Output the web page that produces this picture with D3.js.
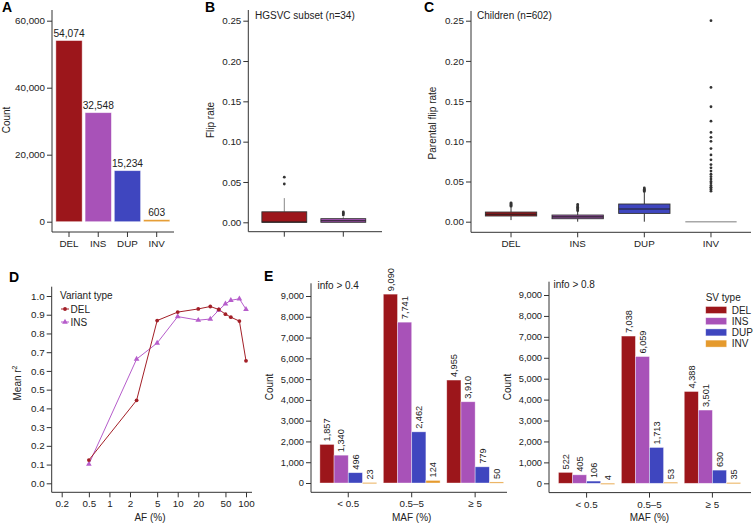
<!doctype html>
<html lang="en">
  <head>
    <meta charset="utf-8"/>
    <title>SV panels</title>
    <script src="https://d3js.org/d3.v7.min.js"></script>
    <style>
      body { margin: 0; background: #fff; }
      text { font-family: "Liberation Sans", Arial, Helvetica, sans-serif; fill: #222; }
    </style>
  </head>
  <body>
    <div id="chart"></div>
    <script>
      // ---- data ----
      var svTypes = ["DEL", "INS", "DUP", "INV"];
      var svColors = ["#9c161b", "#a852b8", "#3f46bf", "#e59a2d"];
      var totalCounts = [54074, 32548, 15234, 603];
      var countTicks = [0, 20000, 40000, 60000];

      // box stats (HGSVC subset)
      var boxB = [
        {type: "DEL", lo: 0, q1: 0, med: 0.0004, q3: 0.013, hi: 0.030, out: [0.0475, 0.056]},
        {type: "INS", lo: 0, q1: 0, med: 0.002, q3: 0.0045, hi: 0.0065, out: [0.009, 0.0105, 0.0115, 0.0128]}
      ];
      // box stats (children)
      var boxC = [
        {type: "DEL", lo: 0.002, q1: 0.0071, med: 0.0092, q3: 0.012, hi: 0.0175, out: [0.019, 0.0205, 0.0215, 0.0225, 0.0235]},
        {type: "INS", lo: 0, q1: 0.0037, med: 0.006, q3: 0.0083, hi: 0.0122, out: [0.0135, 0.015, 0.0165, 0.018, 0.0195, 0.0215]},
        {type: "DUP", lo: 0, q1: 0.0103, med: 0.0158, q3: 0.022, hi: 0.036, out: [0.0375, 0.039, 0.0405, 0.042]},
        {type: "INV", lo: 0, q1: 0, med: 0, q3: 0, hi: 0,
         out: [0.25, 0.167, 0.143, 0.125, 0.111, 0.105, 0.1, 0.091, 0.083, 0.077, 0.071, 0.067, 0.063,
               0.059, 0.056, 0.053, 0.05, 0.048, 0.045, 0.043, 0.042, 0.04, 0.038]}
      ];
      var flipTicks = [0, 0.05, 0.10, 0.15, 0.20, 0.25];

      var afPoints = [0.5, 2.5, 5, 10, 20, 30, 40, 50, 60, 80, 100];
      var delR2 = [0.124, 0.443, 0.869, 0.914, 0.931, 0.944, 0.928, 0.903, 0.887, 0.866, 0.654];
      var insR2 = [0.102, 0.663, 0.749, 0.890, 0.871, 0.877, 0.925, 0.958, 0.977, 0.985, 0.929];
      var afTicks = [0.2, 0.5, 1, 2, 5, 10, 20, 50, 100];
      var r2Ticks = [0, 0.1, 0.2, 0.3, 0.4, 0.5, 0.6, 0.7, 0.8, 0.9, 1.0];

      var mafBins = ["< 0.5", "0.5\u20135", "\u2265 5"];
      // rows = MAF bins, columns = DEL, INS, DUP, INV
      var info04 = [[1857, 1340, 496, 23], [9090, 7741, 2462, 124], [4955, 3910, 779, 50]];
      var info08 = [[522, 405, 106, 4], [7038, 6059, 1713, 53], [4388, 3501, 630, 35]];
      var mafTicks = d3.range(0, 9001, 1000);

      var fmtComma = d3.format(",");
      var fs = 9.8;

      var svg = d3.select("#chart").append("svg")
        .attr("width", 754).attr("height", 524);

      var color = d3.scaleOrdinal().domain(svTypes).range(svColors);

      // helpers
      function leftAxis(x, scale, ticks, fmt, top, bottom, size) {
        var g = svg.append("g")
          .attr("transform", "translate(" + x + ",0)")
          .call(d3.axisLeft(scale).tickValues(ticks).tickFormat(fmt).tickSize(5).tickPadding(2));
        g.select(".domain").remove();
        g.selectAll("text").attr("font-size", size || fs).attr("font-family", null);
        g.selectAll("line").attr("stroke", "#333");
        svg.append("line").attr("x1", x).attr("x2", x).attr("y1", top).attr("y2", bottom)
          .attr("stroke", "#333");
      }
      function bottomAxis(y, scale, ticks, fmt, left, right) {
        var ax = d3.axisBottom(scale).tickSize(5).tickPadding(3);
        if (ticks) ax.tickValues(ticks);
        if (fmt) ax.tickFormat(fmt);
        var g = svg.append("g").attr("transform", "translate(0," + y + ")").call(ax);
        g.select(".domain").remove();
        g.selectAll("text").attr("font-size", fs).attr("font-family", null);
        g.selectAll("line").attr("stroke", "#333");
        svg.append("line").attr("x1", left).attr("x2", right).attr("y1", y).attr("y2", y)
          .attr("stroke", "#333");
      }
      function yTitle(x, y, txt) {
        return svg.append("text").attr("transform", "translate(" + x + "," + y + ") rotate(-90)")
          .attr("text-anchor", "middle").attr("font-size", 10).text(txt);
      }
      function panelLetter(x, y, txt) {
        svg.append("text").attr("x", x).attr("y", y).attr("font-size", 14)
          .attr("font-weight", "bold").style("fill", "#000").text(txt);
      }

      // ---- Panel A ----
      var yA = d3.scaleLinear().domain([0, 60000]).range([221.7, 20.7]);
      var xA = d3.scaleBand().domain(svTypes).range([54.4, 171.3]).paddingInner(0.1).paddingOuter(0.05);
      svg.append("g").selectAll("rect").data(totalCounts).enter().append("rect")
        .attr("x", function(d, i) { return xA(svTypes[i]); })
        .attr("y", function(d) { return yA(d); })
        .attr("width", xA.bandwidth())
        .attr("height", function(d) { return Math.max(yA(0) - yA(d), 1.5); })
        .attr("fill", function(d, i) { return svColors[i]; })
        .attr("stroke", "#fff").attr("stroke-opacity", 0.55).attr("stroke-width", 0.8);
      svg.append("g").selectAll("text").data(totalCounts).enter().append("text")
        .attr("x", function(d, i) { return xA(svTypes[i]) + xA.bandwidth() / 2; })
        .attr("y", function(d) { return yA(d) - 4; })
        .attr("text-anchor", "middle").attr("font-size", 10.2)
        .text(function(d) { return fmtComma(d); });
      leftAxis(52, yA, countTicks, fmtComma, 10, 232);
      bottomAxis(232, xA, null, null, 52, 174);
      yTitle(10, 120, "Count");
      panelLetter(2, 12, "A");

      // ---- box plot helper ----
      function boxes(stats, xs, ys, widthFrac, whiskerColor) {
        var bw = xs.bandwidth() * widthFrac;
        var g = svg.append("g");
        stats.forEach(function(s) {
          var cx = xs(s.type) + xs.bandwidth() / 2;
          if (s.type === "INV") {
            g.append("line").attr("x1", cx - bw / 2).attr("x2", cx + bw / 2)
              .attr("y1", ys(0)).attr("y2", ys(0)).attr("stroke", "#a8a8a8").attr("stroke-width", 1.6);
          } else {
            g.append("line").attr("x1", cx).attr("x2", cx).attr("y1", ys(s.q3)).attr("y2", ys(s.hi))
              .attr("stroke", whiskerColor);
            g.append("line").attr("x1", cx).attr("x2", cx).attr("y1", ys(s.q1)).attr("y2", ys(s.lo))
              .attr("stroke", whiskerColor);
            g.append("rect").attr("x", cx - bw / 2).attr("width", bw)
              .attr("y", ys(s.q3)).attr("height", Math.max(ys(s.q1) - ys(s.q3), 1))
              .attr("fill", color(s.type)).attr("stroke", "#333").attr("stroke-width", 0.9);
            g.append("line").attr("x1", cx - bw / 2).attr("x2", cx + bw / 2)
              .attr("y1", ys(s.med)).attr("y2", ys(s.med)).attr("stroke", "#222").attr("stroke-width", 1.1);
          }
          g.selectAll(null).data(s.out).enter().append("circle")
            .attr("cx", cx).attr("cy", function(d) { return ys(d); })
            .attr("r", 1.4).attr("fill", "#333");
        });
      }

      // ---- Panel B ----
      var yB = d3.scaleLinear().domain([0, 0.25]).range([222.3, 20.7]);
      var xB = d3.scaleBand().domain(["DEL", "INS"]).range([254.8, 372.8]);
      boxes(boxB, xB, yB, 0.76, "#888");
      leftAxis(248.3, yB, flipTicks, d3.format(".2f"), 10, 231.7);
      bottomAxis(231.7, xB, null, function() { return ""; }, 248.3, 382);
      svg.append("text").attr("x", 255).attr("y", 18.5).attr("font-size", 10).text("HGSVC subset (n=34)");
      yTitle(213.5, 120, "Flip rate");
      panelLetter(205, 12, "B");

      // ---- Panel C ----
      var yC = d3.scaleLinear().domain([0, 0.25]).range([221.7, 20.7]);
      var xC = d3.scaleBand().domain(svTypes).range([477.7, 744.3]);
      boxes(boxC, xC, yC, 0.77, "#333");
      leftAxis(471, yC, flipTicks, d3.format(".2f"), 11, 232.3);
      bottomAxis(232.3, xC, null, null, 471, 751);
      svg.append("text").attr("x", 477).attr("y", 18.5).attr("font-size", 10).text("Children (n=602)");
      yTitle(435.5, 123, "Parental flip rate");
      panelLetter(424, 12, "C");

      // ---- Panel D ----
      var yD = d3.scaleLinear().domain([0, 1]).range([483.3, 296]);
      var xD = d3.scaleLog().domain([0.2, 100]).range([61.7, 246]);
      var lineD = d3.line().x(function(d) { return xD(d[0]); }).y(function(d) { return yD(d[1]); });
      var delPts = afPoints.map(function(a, i) { return [a, delR2[i]]; });
      var insPts = afPoints.map(function(a, i) { return [a, insR2[i]]; });
      var delCol = "#a31f27", insCol = "#b65dcb";
      svg.append("path").attr("d", lineD(insPts)).attr("fill", "none").attr("stroke", insCol).attr("stroke-width", 1);
      svg.append("path").attr("d", lineD(delPts)).attr("fill", "none").attr("stroke", delCol).attr("stroke-width", 1);
      svg.append("g").selectAll("path").data(insPts).enter().append("path")
        .attr("d", d3.symbol().type(d3.symbolTriangle).size(14))
        .attr("transform", function(d) { return "translate(" + xD(d[0]) + "," + yD(d[1]) + ")"; })
        .attr("fill", insCol);
      svg.append("g").selectAll("circle").data(delPts).enter().append("circle")
        .attr("cx", function(d) { return xD(d[0]); }).attr("cy", function(d) { return yD(d[1]); })
        .attr("r", 1.9).attr("fill", delCol);
      leftAxis(51.7, yD, r2Ticks, d3.format(".1f"), 286.7, 492.3);
      bottomAxis(492.3, xD, afTicks, d3.format("~g"), 51.7, 252);
      var tD = svg.append("text").attr("transform", "translate(21,383) rotate(-90)")
        .attr("text-anchor", "middle").attr("font-size", 10);
      tD.append("tspan").text("Mean r");
      tD.append("tspan").attr("font-size", 7).attr("dy", -4.5).text("2");
      svg.append("text").attr("x", 150).attr("y", 520.5).attr("text-anchor", "middle")
        .attr("font-size", 10).text("AF (%)");
      // legend D
      svg.append("text").attr("x", 60).attr("y", 298.8).attr("font-size", 10).text("Variant type");
      svg.append("line").attr("x1", 61).attr("x2", 69).attr("y1", 309).attr("y2", 309).attr("stroke", delCol);
      svg.append("circle").attr("cx", 65).attr("cy", 309).attr("r", 1.9).attr("fill", delCol);
      svg.append("text").attr("x", 70.5).attr("y", 312.6).attr("font-size", 10).text("DEL");
      svg.append("line").attr("x1", 61).attr("x2", 69).attr("y1", 322).attr("y2", 322).attr("stroke", insCol);
      svg.append("path").attr("d", d3.symbol().type(d3.symbolTriangle).size(14)())
        .attr("transform", "translate(65,322)").attr("fill", insCol);
      svg.append("text").attr("x", 70.5).attr("y", 325.7).attr("font-size", 10).text("INS");
      panelLetter(9, 282, "D");

      // ---- Panel E ----
      function drawE(rows, axisX, yRange, xRange, axisTop, axisRight, title, titleX) {
        var y = d3.scaleLinear().domain([0, 9000]).range(yRange);
        var x0 = d3.scaleBand().domain(mafBins).range(xRange).paddingInner(0.105).paddingOuter(0.05);
        var x1 = d3.scaleBand().domain(svTypes).range([0, x0.bandwidth()]);
        var grp = svg.append("g").selectAll("g").data(rows).enter().append("g")
          .attr("transform", function(d, i) { return "translate(" + x0(mafBins[i]) + ",0)"; });
        grp.selectAll("rect").data(function(d) { return d; }).enter().append("rect")
          .attr("x", function(d, j) { return x1(svTypes[j]); })
          .attr("y", function(d) { return y(d); })
          .attr("width", x1.bandwidth())
          .attr("height", function(d) { return Math.max(y(0) - y(d), 1.2); })
          .attr("fill", function(d, j) { return svColors[j]; })
          .attr("stroke", "#fff").attr("stroke-opacity", 0.55).attr("stroke-width", 0.7);
        grp.selectAll("text").data(function(d) { return d; }).enter().append("text")
          .attr("transform", function(d, j) {
            return "translate(" + (x1(svTypes[j]) + x1.bandwidth() / 2 + 3.3) + "," + (y(d) - 3) + ") rotate(-90)";
          })
          .attr("font-size", 9.2).text(function(d) { return fmtComma(d); });
        leftAxis(axisX, y, mafTicks, fmtComma, axisTop, yRange[0] + 9.3, 9.3);
        bottomAxis(yRange[0] + 9.3, x0, null, null, axisX, axisRight);
        svg.append("text").attr("x", titleX).attr("y", axisTop + 6).attr("font-size", 10).text(title);
        yTitle(axisX - 38.5, 387, "Count");
        svg.append("text").attr("x", (xRange[0] + xRange[1]) / 2).attr("y", 520.5).attr("text-anchor", "middle")
          .attr("font-size", 10).text("MAF (%)");
      }
      drawE(info04, 311, [483, 296], [316.7, 506.7], 283.3, 507, "info > 0.4", 317.5);
      drawE(info08, 549, [483.3, 295], [555.3, 743.7], 281.7, 751, "info > 0.8", 553.5);
      panelLetter(264, 281, "E");

      // legend E
      svg.append("text").attr("x", 705.7).attr("y", 300.5).attr("font-size", 10).text("SV type");
      var legE = svg.append("g").selectAll("g").data(svTypes).enter().append("g")
        .attr("transform", function(d, i) { return "translate(705.7," + (306.5 + i * 11.2) + ")"; });
      legE.append("rect").attr("width", 21).attr("height", 7)
        .attr("fill", function(d) { return color(d); })
        .attr("stroke", "#fff").attr("stroke-opacity", 0.55).attr("stroke-width", 0.7);
      legE.append("text").attr("x", 26).attr("y", 7.3).attr("font-size", 10).text(function(d) { return d; });
    </script>
  </body>
</html>
